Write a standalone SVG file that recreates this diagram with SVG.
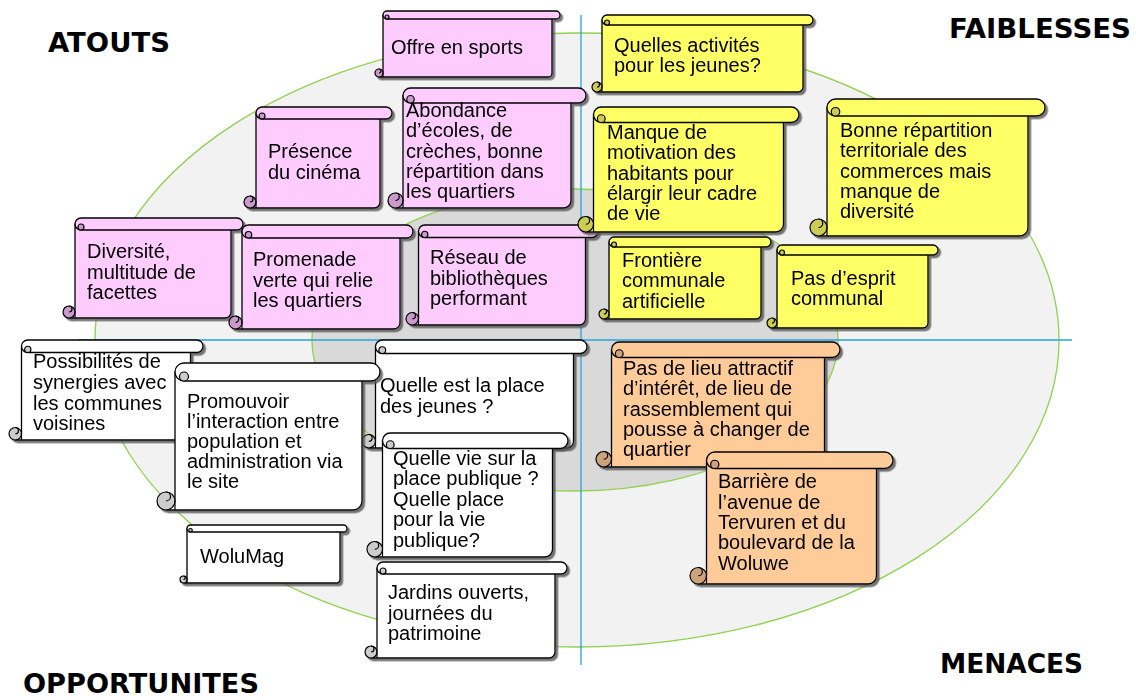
<svg xmlns="http://www.w3.org/2000/svg" width="1136" height="700" viewBox="0 0 1136 700">
<defs>
<filter id="sh" x="-5%" y="-5%" width="115%" height="120%">
<feDropShadow dx="2.5" dy="2.5" stdDeviation="0.6" flood-color="#555" flood-opacity="0.8"/>
</filter>
<style>
.scroll{filter:url(#sh)}
.b,.t{stroke:#000;stroke-width:1.3;stroke-linejoin:round}
.c{stroke:#000;stroke-width:1.2}
.d{fill:none;stroke:#000;stroke-width:1.2}
.pink .b,.pink .t{fill:#ffccff}.pink .c{fill:#cc99cc}
.yellow .b,.yellow .t{fill:#ffff66}.yellow .c{fill:#cccc52}
.orange .b,.orange .t{fill:#ffcc99}.orange .c{fill:#cca37a}
.white .b,.white .t{fill:#ffffff}.white .c{fill:#cccccc}
.l{font-family:"Liberation Sans",Arial,sans-serif;font-size:20px;fill:#000}
.h{font-family:"DejaVu Sans",Verdana,sans-serif;font-size:27px;font-weight:bold;fill:#000}
.bg1{fill:#f2f2f2;stroke:#92d050;stroke-width:1.3}
.bg2{fill:#d9d9d9;stroke:#92d050;stroke-width:1.3}
.ax{stroke:#29a3dc;stroke-width:1.3}
</style>
</defs>
<rect width="1136" height="700" fill="#fff"/>
<g id="background">
<ellipse class="bg1" cx="577" cy="340" rx="482" ry="307"/>
<ellipse class="bg2" cx="575" cy="340" rx="263" ry="151"/>
</g>
<g id="connectors">
<line class="ax" x1="581" y1="15" x2="581" y2="665"/>
<line class="ax" x1="78" y1="340" x2="1072" y2="340"/>
</g>
<g id="titles">
<text class="h" x="48" y="52" textLength="122" lengthAdjust="spacingAndGlyphs">ATOUTS</text>
<text class="h" x="949" y="38" textLength="182" lengthAdjust="spacingAndGlyphs">FAIBLESSES</text>
<text class="h" x="940" y="673" textLength="143" lengthAdjust="spacingAndGlyphs">MENACES</text>
<text class="h" x="23" y="693" textLength="236" lengthAdjust="spacingAndGlyphs">OPPORTUNITES</text>
</g>

<g id="n-offre" class="scroll pink" transform="translate(375,11)">
<path class="b" d="M8,4 H177 V62 A4 4 0 0 1 173,66 H4 V62 H8 Z"/>
<path class="t" d="M12,0 H181 A4 4 0 0 1 181,8 H12 A4 4 0 0 1 12,0 Z"/>
<circle class="c" cx="12" cy="6" r="2"/>
<circle class="c" cx="4" cy="62" r="4"/>
<path class="d" d="M4,62 A2 2 0 0 0 4,58 M8,62 V66"/>
<text class="l" x="16" y="43">Offre en sports</text>
</g>

<g id="n-presence" class="scroll pink" transform="translate(244,107)">
<path class="b" d="M12,6 H136 V95 A6 6 0 0 1 130,101 H6 V95 H12 Z"/>
<path class="t" d="M18,0 H142 A6 6 0 0 1 142,12 H18 A6 6 0 0 1 18,0 Z"/>
<circle class="c" cx="18" cy="9" r="3"/>
<circle class="c" cx="6" cy="95" r="6"/>
<path class="d" d="M6,95 A3 3 0 0 0 6,89 M12,95 V101"/>
<text class="l" x="24" y="51">Présence</text>
<text class="l" x="24" y="72">du cinéma</text>
</g>

<g id="n-abondance" class="scroll pink" transform="translate(388,88)">
<path class="b" d="M15,7.5 H183 V112.5 A7.5 7.5 0 0 1 175.5,120 H7.5 V112.5 H15 Z"/>
<path class="t" d="M22.5,0 H190.5 A7.5 7.5 0 0 1 190.5,15 H22.5 A7.5 7.5 0 0 1 22.5,0 Z"/>
<circle class="c" cx="22.5" cy="11.25" r="3.75"/>
<circle class="c" cx="7.5" cy="112.5" r="7.5"/>
<path class="d" d="M7.5,112.5 A3.75 3.75 0 0 0 7.5,105 M15,112.5 V120"/>
<text class="l" x="18" y="29">Abondance</text>
<text class="l" x="18" y="49.3">d’écoles, de</text>
<text class="l" x="18" y="69.6">crèches, bonne</text>
<text class="l" x="18" y="89.9">répartition dans</text>
<text class="l" x="18" y="110.2">les quartiers</text>
</g>

<g id="n-diversite" class="scroll pink" transform="translate(63,218)">
<path class="b" d="M12,6 H168 V94 A6 6 0 0 1 162,100 H6 V94 H12 Z"/>
<path class="t" d="M18,0 H174 A6 6 0 0 1 174,12 H18 A6 6 0 0 1 18,0 Z"/>
<circle class="c" cx="18" cy="9" r="3"/>
<circle class="c" cx="6" cy="94" r="6"/>
<path class="d" d="M6,94 A3 3 0 0 0 6,88 M12,94 V100"/>
<text class="l" x="24" y="40">Diversité,</text>
<text class="l" x="24" y="60.5">multitude de</text>
<text class="l" x="24" y="81">facettes</text>
</g>

<g id="n-promenade" class="scroll pink" transform="translate(229,225)">
<path class="b" d="M13,6.5 H171 V97.5 A6.5 6.5 0 0 1 164.5,104 H6.5 V97.5 H13 Z"/>
<path class="t" d="M19.5,0 H177.5 A6.5 6.5 0 0 1 177.5,13 H19.5 A6.5 6.5 0 0 1 19.5,0 Z"/>
<circle class="c" cx="19.5" cy="9.75" r="3.25"/>
<circle class="c" cx="6.5" cy="97.5" r="6.5"/>
<path class="d" d="M6.5,97.5 A3.25 3.25 0 0 0 6.5,91 M13,97.5 V104"/>
<text class="l" x="24" y="41">Promenade</text>
<text class="l" x="24" y="61.5">verte qui relie</text>
<text class="l" x="24" y="82">les quartiers</text>
</g>

<g id="n-reseau" class="scroll pink" transform="translate(406,225)">
<path class="b" d="M12.5,6.25 H179.5 V93.75 A6.25 6.25 0 0 1 173.25,100 H6.25 V93.75 H12.5 Z"/>
<path class="t" d="M18.75,0 H185.75 A6.25 6.25 0 0 1 185.75,12.5 H18.75 A6.25 6.25 0 0 1 18.75,0 Z"/>
<circle class="c" cx="18.75" cy="9.375" r="3.125"/>
<circle class="c" cx="6.25" cy="93.75" r="6.25"/>
<path class="d" d="M6.25,93.75 A3.125 3.125 0 0 0 6.25,87.5 M12.5,93.75 V100"/>
<text class="l" x="24" y="39">Réseau de</text>
<text class="l" x="24" y="59.5">bibliothèques</text>
<text class="l" x="24" y="80">performant</text>
</g>

<g id="n-activites" class="scroll yellow" transform="translate(592,15)">
<path class="b" d="M10,5 H211 V72 A5 5 0 0 1 206,77 H5 V72 H10 Z"/>
<path class="t" d="M15,0 H216 A5 5 0 0 1 216,10 H15 A5 5 0 0 1 15,0 Z"/>
<circle class="c" cx="15" cy="7.5" r="2.5"/>
<circle class="c" cx="5" cy="72" r="5"/>
<path class="d" d="M5,72 A2.5 2.5 0 0 0 5,67 M10,72 V77"/>
<text class="l" x="22" y="37">Quelles activités</text>
<text class="l" x="22" y="57">pour les jeunes?</text>
</g>

<g id="n-bonne" class="scroll yellow" transform="translate(810,99)">
<path class="b" d="M17,8.5 H218 V128.5 A8.5 8.5 0 0 1 209.5,137 H8.5 V128.5 H17 Z"/>
<path class="t" d="M25.5,0 H226.5 A8.5 8.5 0 0 1 226.5,17 H25.5 A8.5 8.5 0 0 1 25.5,0 Z"/>
<circle class="c" cx="25.5" cy="12.75" r="4.25"/>
<circle class="c" cx="8.5" cy="128.5" r="8.5"/>
<path class="d" d="M8.5,128.5 A4.25 4.25 0 0 0 8.5,120 M17,128.5 V137"/>
<text class="l" x="30" y="38">Bonne répartition</text>
<text class="l" x="30" y="58.25">territoriale des</text>
<text class="l" x="30" y="78.5">commerces mais</text>
<text class="l" x="30" y="98.75">manque de</text>
<text class="l" x="30" y="119">diversité</text>
</g>

<g id="n-manque" class="scroll yellow" transform="translate(578,107)">
<path class="b" d="M15.5,7.75 H205.5 V117.25 A7.75 7.75 0 0 1 197.75,125 H7.75 V117.25 H15.5 Z"/>
<path class="t" d="M23.25,0 H213.25 A7.75 7.75 0 0 1 213.25,15.5 H23.25 A7.75 7.75 0 0 1 23.25,0 Z"/>
<circle class="c" cx="23.25" cy="11.625" r="3.875"/>
<circle class="c" cx="7.75" cy="117.25" r="7.75"/>
<path class="d" d="M7.75,117.25 A3.875 3.875 0 0 0 7.75,109.5 M15.5,117.25 V125"/>
<text class="l" x="29" y="32">Manque de</text>
<text class="l" x="29" y="52.25">motivation des</text>
<text class="l" x="29" y="72.5">habitants pour</text>
<text class="l" x="29" y="92.75">élargir leur cadre</text>
<text class="l" x="29" y="113">de vie</text>
</g>

<g id="n-frontiere" class="scroll yellow" transform="translate(599,237)">
<path class="b" d="M10,5 H162 V77 A5 5 0 0 1 157,82 H5 V77 H10 Z"/>
<path class="t" d="M15,0 H167 A5 5 0 0 1 167,10 H15 A5 5 0 0 1 15,0 Z"/>
<circle class="c" cx="15" cy="7.5" r="2.5"/>
<circle class="c" cx="5" cy="77" r="5"/>
<path class="d" d="M5,77 A2.5 2.5 0 0 0 5,72 M10,77 V82"/>
<text class="l" x="23" y="30">Frontière</text>
<text class="l" x="23" y="50.25">communale</text>
<text class="l" x="23" y="70.5">artificielle</text>
</g>

<g id="n-esprit" class="scroll yellow" transform="translate(767,245)">
<path class="b" d="M10,5 H161 V78 A5 5 0 0 1 156,83 H5 V78 H10 Z"/>
<path class="t" d="M15,0 H166 A5 5 0 0 1 166,10 H15 A5 5 0 0 1 15,0 Z"/>
<circle class="c" cx="15" cy="7.5" r="2.5"/>
<circle class="c" cx="5" cy="78" r="5"/>
<path class="d" d="M5,78 A2.5 2.5 0 0 0 5,73 M10,78 V83"/>
<text class="l" x="24" y="40">Pas d’esprit</text>
<text class="l" x="24" y="60">communal</text>
</g>

<g id="n-synergies" class="scroll white" transform="translate(9,340)">
<path class="b" d="M12.5,6.25 H181.5 V93.75 A6.25 6.25 0 0 1 175.25,100 H6.25 V93.75 H12.5 Z"/>
<path class="t" d="M18.75,0 H187.75 A6.25 6.25 0 0 1 187.75,12.5 H18.75 A6.25 6.25 0 0 1 18.75,0 Z"/>
<circle class="c" cx="18.75" cy="9.375" r="3.125"/>
<circle class="c" cx="6.25" cy="93.75" r="6.25"/>
<path class="d" d="M6.25,93.75 A3.125 3.125 0 0 0 6.25,87.5 M12.5,93.75 V100"/>
<text class="l" x="24" y="28.3">Possibilités de</text>
<text class="l" x="24" y="48.9">synergies avec</text>
<text class="l" x="24" y="69.5">les communes</text>
<text class="l" x="24" y="90">voisines</text>
</g>

<g id="n-place-jeunes" class="scroll white" transform="translate(362,340)">
<path class="b" d="M13.5,6.75 H211.5 V101.25 A6.75 6.75 0 0 1 204.75,108 H6.75 V101.25 H13.5 Z"/>
<path class="t" d="M20.25,0 H218.25 A6.75 6.75 0 0 1 218.25,13.5 H20.25 A6.75 6.75 0 0 1 20.25,0 Z"/>
<circle class="c" cx="20.25" cy="10.125" r="3.375"/>
<circle class="c" cx="6.75" cy="101.25" r="6.75"/>
<path class="d" d="M6.75,101.25 A3.375 3.375 0 0 0 6.75,94.5 M13.5,101.25 V108"/>
<text class="l" x="18" y="52">Quelle est la place</text>
<text class="l" x="18" y="72.5">des jeunes ?</text>
</g>

<g id="n-promouvoir" class="scroll white" transform="translate(157,363)">
<path class="b" d="M18,9 H205 V138 A9 9 0 0 1 196,147 H9 V138 H18 Z"/>
<path class="t" d="M27,0 H214 A9 9 0 0 1 214,18 H27 A9 9 0 0 1 27,0 Z"/>
<circle class="c" cx="27" cy="13.5" r="4.5"/>
<circle class="c" cx="9" cy="138" r="9"/>
<path class="d" d="M9,138 A4.5 4.5 0 0 0 9,129 M18,138 V147"/>
<text class="l" x="30" y="45">Promouvoir</text>
<text class="l" x="30" y="65">l’interaction entre</text>
<text class="l" x="30" y="85">population et</text>
<text class="l" x="30" y="105">administration via</text>
<text class="l" x="30" y="125">le site</text>
</g>

<g id="n-vie-publique" class="scroll white" transform="translate(367,433)">
<path class="b" d="M15.5,7.75 H185.5 V116.25 A7.75 7.75 0 0 1 177.75,124 H7.75 V116.25 H15.5 Z"/>
<path class="t" d="M23.25,0 H193.25 A7.75 7.75 0 0 1 193.25,15.5 H23.25 A7.75 7.75 0 0 1 23.25,0 Z"/>
<circle class="c" cx="23.25" cy="11.625" r="3.875"/>
<circle class="c" cx="7.75" cy="116.25" r="7.75"/>
<path class="d" d="M7.75,116.25 A3.875 3.875 0 0 0 7.75,108.5 M15.5,116.25 V124"/>
<text class="l" x="26" y="32">Quelle vie sur la</text>
<text class="l" x="26" y="52.4">place publique ?</text>
<text class="l" x="26" y="72.8">Quelle place</text>
<text class="l" x="26" y="93.2">pour la vie</text>
<text class="l" x="26" y="113.6">publique?</text>
</g>

<g id="n-jardins" class="scroll white" transform="translate(365,562)">
<path class="b" d="M12,6 H190 V90 A6 6 0 0 1 184,96 H6 V90 H12 Z"/>
<path class="t" d="M18,0 H196 A6 6 0 0 1 196,12 H18 A6 6 0 0 1 18,0 Z"/>
<circle class="c" cx="18" cy="9" r="3"/>
<circle class="c" cx="6" cy="90" r="6"/>
<path class="d" d="M6,90 A3 3 0 0 0 6,84 M12,90 V96"/>
<text class="l" x="23" y="37">Jardins ouverts,</text>
<text class="l" x="23" y="57.5">journées du</text>
<text class="l" x="23" y="78">patrimoine</text>
</g>

<g id="n-wolumag" class="scroll white" transform="translate(180,525)">
<path class="b" d="M7,3.5 H160 V54.5 A3.5 3.5 0 0 1 156.5,58 H3.5 V54.5 H7 Z"/>
<path class="t" d="M10.5,0 H163.5 A3.5 3.5 0 0 1 163.5,7 H10.5 A3.5 3.5 0 0 1 10.5,0 Z"/>
<circle class="c" cx="10.5" cy="5.25" r="1.75"/>
<circle class="c" cx="3.5" cy="54.5" r="3.5"/>
<path class="d" d="M3.5,54.5 A1.75 1.75 0 0 0 3.5,51 M7,54.5 V58"/>
<text class="l" x="20" y="38">WoluMag</text>
</g>

<g id="n-lieu" class="scroll orange" transform="translate(596,342)">
<path class="b" d="M15.5,7.75 H228.5 V117.25 A7.75 7.75 0 0 1 220.75,125 H7.75 V117.25 H15.5 Z"/>
<path class="t" d="M23.25,0 H236.25 A7.75 7.75 0 0 1 236.25,15.5 H23.25 A7.75 7.75 0 0 1 23.25,0 Z"/>
<circle class="c" cx="23.25" cy="11.625" r="3.875"/>
<circle class="c" cx="7.75" cy="117.25" r="7.75"/>
<path class="d" d="M7.75,117.25 A3.875 3.875 0 0 0 7.75,109.5 M15.5,117.25 V125"/>
<text class="l" x="27" y="33">Pas de lieu attractif</text>
<text class="l" x="27" y="53.25">d’intérêt, de lieu de</text>
<text class="l" x="27" y="73.5">rassemblement qui</text>
<text class="l" x="27" y="93.75">pousse à changer de</text>
<text class="l" x="27" y="114">quartier</text>
</g>

<g id="n-barriere" class="scroll orange" transform="translate(690,452)">
<path class="b" d="M16.5,8.25 H186.5 V123.75 A8.25 8.25 0 0 1 178.25,132 H8.25 V123.75 H16.5 Z"/>
<path class="t" d="M24.75,0 H194.75 A8.25 8.25 0 0 1 194.75,16.5 H24.75 A8.25 8.25 0 0 1 24.75,0 Z"/>
<circle class="c" cx="24.75" cy="12.375" r="4.125"/>
<circle class="c" cx="8.25" cy="123.75" r="8.25"/>
<path class="d" d="M8.25,123.75 A4.125 4.125 0 0 0 8.25,115.5 M16.5,123.75 V132"/>
<text class="l" x="28" y="36.3">Barrière de</text>
<text class="l" x="28" y="56.7">l’avenue de</text>
<text class="l" x="28" y="77">Tervuren et du</text>
<text class="l" x="28" y="97.4">boulevard de la</text>
<text class="l" x="28" y="117.8">Woluwe</text>
</g>
</svg>
